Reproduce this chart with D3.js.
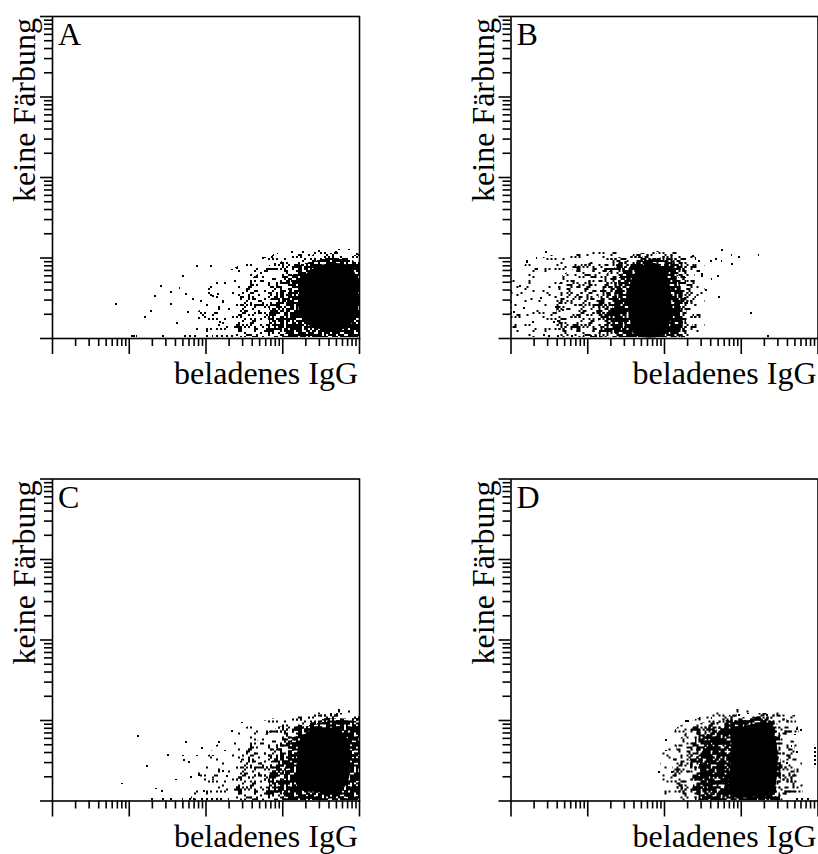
<!DOCTYPE html>
<html><head><meta charset="utf-8">
<script src="https://cdn.jsdelivr.net/npm/d3@7"></script>
<style>html,body{margin:0;padding:0;background:#fff;} svg{display:block;}</style>
</head><body><svg id="chart" width="818" height="854"></svg>
<script>
// ---------- DATA (log10 fluorescence, decades 0..4) ----------
const panelLabels = ["A", "B", "C", "D"];
const xAxisTitle = "beladenes IgG";
const yAxisTitle = "keine Färbung";
const channelDomain = [1, 10000];
const majorTicks = [1, 10, 100, 1000, 10000];

// density contours (event density levels): sparse, medium, dense, very dense, core (solid)
const sparseA = [[1.86,0.01],[1.93,0.47],[2.12,0.72],[2.45,0.91],[2.84,1.03],[3.23,1.11],[3.62,1.12],[4.0,1.09],[4.0,0.01]];
const mediumA = [[2.38,0.01],[2.42,0.47],[2.58,0.72],[2.84,0.91],[3.23,1.02],[3.62,1.06],[4.0,1.03],[4.0,0.01]];
const denseA  = [[2.81,0.01],[2.84,0.47],[2.97,0.75],[3.23,0.91],[3.62,0.99],[4.0,0.94],[4.0,0.01]];
const vdenseA = [[3.04,0.01],[3.06,0.47],[3.13,0.78],[3.30,0.93],[3.62,1.0],[3.91,0.97],[4.0,0.91],[4.0,0.01]];
const coreA   = [[3.21,0.47],[3.27,0.75],[3.43,0.88],[3.66,0.93],[3.88,0.89],[3.97,0.75],[3.99,0.47],[3.95,0.25],[3.82,0.12],[3.56,0.10],[3.34,0.16],[3.23,0.29]];
const eventsA = [[0.83,0.42],[1.21,0.26],[1.29,0.34],[1.34,0.52],[1.42,0.65],[1.55,0.57],[1.55,0.42],[1.63,0.19],[1.66,0.62],[1.71,0.77],[1.75,0.55],[1.77,0.32],[1.84,0.48],[1.89,0.89],[1.92,0.25],[1.97,0.29],[2.05,0.61],[2.07,0.89],[2.10,0.52],[2.16,0.55],[2.19,0.20],[2.23,0.45],[2.25,0.68],[2.35,0.85],[2.41,0.87],[2.75,0.99],[2.87,1.01],[3.13,1.07],[3.27,1.07],[3.70,1.07],[3.97,1.04],
  [1.04,0.02],[1.07,0.02],[1.10,0.02],[1.45,0.02],[1.73,0.02],[1.80,0.02],[1.86,0.02],[2.02,0.02],[2.09,0.02],[2.15,0.02],[2.22,0.02],[2.28,0.02],[2.35,0.02]];

const sparseB = [[0.01,0.01],[0.01,0.72],[0.18,0.91],[0.51,1.03],[1.03,1.07],[1.68,1.09],[2.33,1.07],[2.53,0.91],[2.53,0.01]];
const mediumB = [[0.64,0.01],[0.57,0.47],[0.67,0.78],[0.90,0.91],[1.29,0.99],[1.75,1.06],[2.20,1.03],[2.40,0.91],[2.42,0.47],[2.36,0.01]];
const denseB  = [[1.16,0.01],[1.13,0.47],[1.23,0.78],[1.42,0.94],[1.75,1.02],[2.07,0.99],[2.27,0.85],[2.31,0.47],[2.27,0.01]];
const vdenseB = [[1.36,0.01],[1.32,0.47],[1.43,0.78],[1.62,0.94],[1.88,0.99],[2.10,0.94],[2.21,0.72],[2.21,0.01]];
const coreB   = [[1.56,0.22],[1.53,0.53],[1.60,0.78],[1.75,0.92],[1.92,0.92],[2.04,0.78],[2.09,0.53],[2.08,0.22],[2.00,0.04],[1.62,0.04]];
const eventsB = [[2.24,0.20],[2.27,0.98],[2.27,0.50],[2.35,0.46],[2.38,1.02],[2.40,0.26],[2.41,0.98],[2.46,0.96],[2.46,0.83],[2.49,0.80],[2.50,0.77],[2.55,0.60],[2.61,0.96],[2.62,0.73],[2.68,0.98],[2.70,0.77],[2.72,0.51],[2.75,0.96],[2.76,1.09],[2.88,1.03],[2.89,0.92],[2.98,1.01],[3.13,0.31],[3.23,1.03],[3.36,0.02],
  [0.21,0.94],[0.34,0.99],[0.46,1.07],[0.22,0.96],[0.35,0.86],[0.12,0.65],[0.05,0.32],[0.29,0.20],[0.18,0.37],[0.40,0.50],[0.57,0.20],[0.68,0.35],[0.44,0.04],
  [0.01,0.84],[0.01,0.70],[0.01,0.58],[0.01,0.45],[0.01,0.38],[0.01,0.31],
  [0.50,0.02],[0.62,0.02],[0.80,0.02],[0.95,0.02],[1.05,0.02],[1.12,0.02]];

const sparseC = [[1.80,0.01],[1.90,0.37],[2.12,0.68],[2.45,0.89],[2.84,1.02],[3.23,1.09],[3.62,1.14],[4.0,1.14],[4.0,0.01]];
const mediumC = [[2.38,0.01],[2.42,0.44],[2.58,0.68],[2.84,0.87],[3.23,1.02],[3.62,1.09],[4.0,1.08],[4.0,0.01]];
const denseC  = [[2.81,0.01],[2.84,0.44],[2.97,0.75],[3.23,0.93],[3.56,1.02],[4.0,1.02],[4.0,0.01]];
const vdenseC = [[3.01,0.01],[3.04,0.50],[3.13,0.78],[3.36,0.94],[3.69,1.0],[4.0,0.98],[4.0,0.01]];
const coreC   = [[3.19,0.19],[3.19,0.50],[3.23,0.75],[3.36,0.87],[3.52,0.91],[3.73,0.88],[3.86,0.75],[3.88,0.50],[3.86,0.25],[3.75,0.12],[3.43,0.11],[3.27,0.12]];
const eventsC = [[0.91,0.21],[1.12,0.80],[1.24,0.43],[1.36,0.15],[1.43,0.12],[1.51,0.57],[1.62,0.26],[1.71,0.56],[1.72,0.50],[1.75,0.73],[1.79,0.48],[1.81,0.29],[1.89,0.56],[1.92,0.32],[1.95,0.65],[1.98,0.12],[2.10,0.26],[2.10,0.56],[2.18,0.73],[2.23,0.37],[2.25,0.62],[2.28,0.30],[2.35,0.86],[2.48,0.97],
  [1.30,0.02],[1.45,0.02],[1.55,0.02],[1.70,0.02],[1.80,0.02],[1.85,0.02],[1.95,0.02],[2.02,0.02],[2.08,0.02],[2.15,0.02],[2.20,0.02],[2.30,0.02]];

const sparseD = [[2.01,0.01],[1.94,0.44],[2.01,0.75],[2.20,0.93],[2.59,1.08],[2.98,1.14],[3.38,1.14],[3.70,1.06],[3.79,0.75],[3.81,0.01]];
const mediumD = [[2.20,0.01],[2.10,0.44],[2.18,0.75],[2.40,0.94],[2.72,1.04],[3.11,1.09],[3.44,1.09],[3.64,0.99],[3.71,0.62],[3.70,0.01]];
const denseD  = [[2.40,0.01],[2.33,0.50],[2.42,0.81],[2.66,0.97],[3.05,1.04],[3.38,1.04],[3.50,0.93],[3.53,0.50],[3.51,0.01]];
const vdenseD = [[2.50,0.01],[2.46,0.44],[2.55,0.81],[2.83,0.97],[3.23,1.02],[3.42,0.98],[3.46,0.81],[3.46,0.01]];
const coreD   = [[2.88,0.06],[2.87,0.50],[2.89,0.77],[2.98,0.89],[3.11,0.94],[3.28,0.96],[3.40,0.89],[3.47,0.68],[3.47,0.31],[3.41,0.09],[3.18,0.05]];
const eventsD = [[1.93,0.35],[2.03,0.75],[2.03,0.62],[2.10,0.35],[2.15,0.88],[2.24,0.16],[2.29,0.99],[2.31,0.99],[2.62,1.02],[2.98,1.06],[3.09,1.08],[3.34,1.06],[3.60,0.47],[3.66,0.68],[3.71,0.82],[3.73,0.89],[3.73,0.60],[3.78,0.88],[3.79,0.87],
  [3.97,0.45],[3.97,0.50],[3.97,0.55],[3.97,0.60],[3.97,0.65],
  [2.47,0.02],[2.55,0.02],[2.62,0.02],[2.70,0.02],[3.20,0.02],[3.30,0.02],[3.35,0.02],[3.73,0.02],[3.80,0.02],[3.88,0.02]];

// ---------- LAYOUT ----------
const W = 307, H = 322;
const origins = [[52, 16], [510.5, 16], [52, 478.5], [510.5, 478.5]];
const panels = [
  {label: panelLabels[0], levels: [sparseA, mediumA, denseA, vdenseA], core: coreA, events: eventsA},
  {label: panelLabels[1], levels: [sparseB, mediumB, denseB, vdenseB], core: coreB, events: eventsB},
  {label: panelLabels[2], levels: [sparseC, mediumC, denseC, vdenseC], core: coreC, events: eventsC},
  {label: panelLabels[3], levels: [sparseD, mediumD, denseD, vdenseD], core: coreD, events: eventsD}
];
const levelDensity = [0.07, 0.24, 0.5, 0.78];

const svg = d3.select("#chart");
svg.append("rect").attr("width", 818).attr("height", 854).attr("fill", "#fff");
const defs = svg.append("defs");

// dither texture used to render density levels as speckle
function dither(i, j) {
  let h = (Math.imul(i, 374761393) + Math.imul(j, 668265263)) | 0;
  h = Math.imul(h ^ (h >>> 13), 1274126177);
  h = h ^ (h >>> 16);
  return (h >>> 0) / 4294967296;
}
const cell = 2, nCells = 30;
levelDensity.forEach((f, k) => {
  const p = defs.append("pattern").attr("id", "lv" + k)
    .attr("patternUnits", "userSpaceOnUse")
    .attr("width", cell * nCells).attr("height", cell * nCells);
  for (let i = 0; i < nCells; i++) for (let j = 0; j < nCells; j++) {
    if (dither(i, j) < f) p.append("rect").attr("x", i * cell).attr("y", j * cell)
      .attr("width", cell).attr("height", cell).attr("fill", "#000");
  }
});
defs.append("clipPath").attr("id", "plotclip").append("rect").attr("width", W).attr("height", H);

const x = d3.scaleLog().domain(channelDomain).range([0, W]);
const y = d3.scaleLog().domain(channelDomain).range([H, 0]);
const dec = v => Math.pow(10, v);
const area = d3.line().x(d => x(dec(d[0]))).y(d => y(dec(d[1])));
const blob = d3.line().x(d => x(dec(d[0]))).y(d => y(dec(d[1]))).curve(d3.curveCatmullRomClosed.alpha(0.5));
const minorTicks = x.ticks().filter(v => !majorTicks.includes(v));

const font = "'Liberation Serif','Times New Roman',Times,serif";

panels.forEach((p, idx) => {
  const g = svg.append("g").attr("transform", `translate(${origins[idx][0]},${origins[idx][1]})`);
  const plot = g.append("g").attr("clip-path", "url(#plotclip)").attr("shape-rendering", "crispEdges");
  p.levels.forEach((poly, k) => {
    plot.append("path").attr("d", area(poly) + "Z").attr("fill", `url(#lv${k})`);
  });
  plot.append("path").attr("d", blob(p.core)).attr("fill", "#000").attr("shape-rendering", "auto");
  plot.selectAll("rect.ev").data(p.events).join("rect").attr("class", "ev")
    .attr("x", d => x(dec(d[0])) - 0.9).attr("y", d => y(dec(d[1])) - 0.9)
    .attr("width", 1.8).attr("height", 1.8).attr("fill", "#000");

  // axes
  const styleAxis = a => { a.select(".domain").remove(); a.selectAll("line").attr("stroke", "#000").attr("stroke-width", 1.6); };
  g.append("g").attr("transform", `translate(0,${H})`)
    .call(d3.axisBottom(x).tickValues(majorTicks).tickSize(16).tickFormat("")).call(styleAxis);
  g.append("g").attr("transform", `translate(0,${H})`)
    .call(d3.axisBottom(x).tickValues(minorTicks).tickSize(8).tickFormat("")).call(styleAxis);
  g.append("g").call(d3.axisLeft(y).tickValues(majorTicks).tickSize(12).tickFormat("")).call(styleAxis);
  g.append("g").call(d3.axisLeft(y).tickValues(minorTicks).tickSize(8).tickFormat("")).call(styleAxis);

  g.append("rect").attr("x", 0.5).attr("y", 0.5).attr("width", W).attr("height", H)
    .attr("fill", "none").attr("stroke", "#000").attr("stroke-width", 1.6);

  g.append("text").attr("x", 6).attr("y", 29).attr("font-family", font).attr("font-size", 32)
    .attr("fill", "#000").text(p.label);
  g.append("text").attr("x", W - 1).attr("y", H + 46).attr("text-anchor", "end")
    .attr("font-family", font).attr("font-size", 32).attr("fill", "#000").text(xAxisTitle);
  g.append("text").attr("transform", "translate(-17,2) rotate(-90)").attr("text-anchor", "end")
    .attr("font-family", font).attr("font-size", 32).attr("fill", "#000").text(yAxisTitle);
});
</script></body></html>
